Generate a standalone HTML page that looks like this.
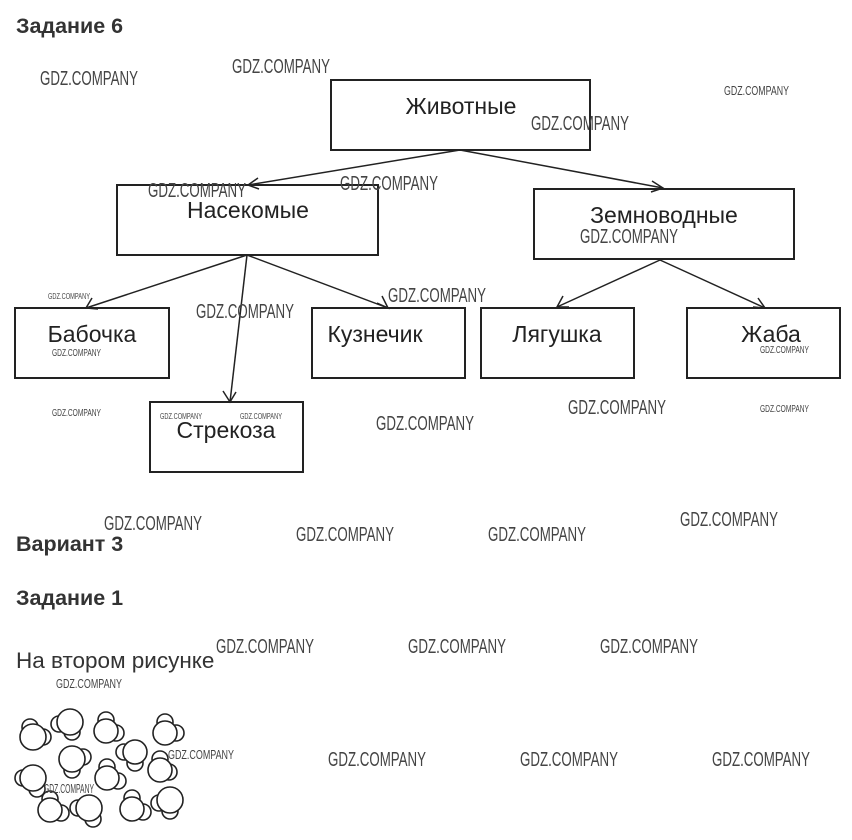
<!DOCTYPE html>
<html><head><meta charset="utf-8"><style>
body{margin:0;background:#fff}
svg{display:block}
.h{font-family:"Liberation Sans",sans-serif;font-weight:bold;font-size:21.5px;fill:#333}
.n{font-family:"Liberation Sans",sans-serif;font-size:23px;fill:#222}
.w{font-family:"Liberation Sans Narrow","Liberation Sans",sans-serif;fill:#444}
</style></head><body>
<svg width="852" height="840" viewBox="0 0 852 840" xmlns="http://www.w3.org/2000/svg">
<g stroke="#222" stroke-width="2" fill="none">
<rect x="331" y="80" width="259" height="70"/>
<rect x="117" y="185" width="261" height="70"/>
<rect x="534" y="189" width="260" height="70"/>
<rect x="15" y="308" width="154" height="70"/>
<rect x="312" y="308" width="153" height="70"/>
<rect x="481" y="308" width="153" height="70"/>
<rect x="687" y="308" width="153" height="70"/>
<rect x="150" y="402" width="153" height="70"/>
</g>
<g stroke="#222" stroke-width="1.5" fill="none">
<line x1="460" y1="150" x2="248" y2="185"/><polyline points="258,178 248,185 259,189"/>
<line x1="460" y1="150" x2="663" y2="188"/><polyline points="652,181 663,188 651,192"/>
<line x1="247" y1="255" x2="86" y2="308"/><polyline points="92,298 86,308 98,309"/>
<line x1="247" y1="255" x2="230" y2="402"/><polyline points="223,391 230,402 236,392"/>
<line x1="247" y1="255" x2="388" y2="308"/><polyline points="377,303 388,308 382,296"/>
<line x1="660" y1="260" x2="557" y2="307"/><polyline points="563,296 557,307 569,307"/>
<line x1="660" y1="260" x2="765" y2="308"/><polyline points="753,307 765,308 758,298"/>
</g>
<text class="n" x="461" y="114" text-anchor="middle">Животные</text>
<text class="n" x="248" y="218" text-anchor="middle">Насекомые</text>
<text class="n" x="664" y="223" text-anchor="middle">Земноводные</text>
<text class="n" x="92" y="342" text-anchor="middle">Бабочка</text>
<text class="n" x="375" y="342" text-anchor="middle">Кузнечик</text>
<text class="n" x="557" y="342" text-anchor="middle">Лягушка</text>
<text class="n" x="771" y="342" text-anchor="middle">Жаба</text>
<text class="n" x="226" y="438" text-anchor="middle">Стрекоза</text>
<text class="h" x="16" y="33">Задание 6</text>
<text class="h" x="16" y="551">Вариант 3</text>
<text class="h" x="16" y="605">Задание 1</text>
<text class="n" x="16" y="668" style="font-size:22.5px;fill:#333">На втором рисунке</text>
<g stroke="#222" stroke-width="1.6" fill="#fff">
<g transform="translate(33,737)"><circle cx="-3" cy="-10" r="8"/><circle cx="10" cy="0" r="8"/><circle r="13"/></g>
<g transform="translate(70,722)"><circle cx="-11" cy="2" r="8"/><circle cx="2" cy="10" r="8"/><circle r="13"/></g>
<g transform="translate(106,731)"><circle cx="0" cy="-11" r="8"/><circle cx="10" cy="2" r="8"/><circle r="12"/></g>
<g transform="translate(165,733)"><circle cx="0" cy="-11" r="8"/><circle cx="11" cy="0" r="8"/><circle r="12"/></g>
<g transform="translate(135,752)"><circle cx="-11" cy="0" r="8"/><circle cx="0" cy="11" r="8"/><circle r="12"/></g>
<g transform="translate(72,759)"><circle cx="11" cy="-2" r="8"/><circle cx="0" cy="11" r="8"/><circle r="13"/></g>
<g transform="translate(160,770)"><circle cx="0" cy="-11" r="8"/><circle cx="9" cy="2" r="8"/><circle r="12"/></g>
<g transform="translate(33,778)"><circle cx="-10" cy="0" r="8"/><circle cx="4" cy="11" r="8"/><circle r="13"/></g>
<g transform="translate(107,778)"><circle cx="0" cy="-11" r="8"/><circle cx="11" cy="3" r="8"/><circle r="12"/></g>
<g transform="translate(50,810)"><circle cx="0" cy="-11" r="8"/><circle cx="11" cy="3" r="8"/><circle r="12"/></g>
<g transform="translate(89,808)"><circle cx="-11" cy="0" r="8"/><circle cx="4" cy="11" r="8"/><circle r="13"/></g>
<g transform="translate(132,809)"><circle cx="0" cy="-11" r="8"/><circle cx="11" cy="3" r="8"/><circle r="12"/></g>
<g transform="translate(170,800)"><circle cx="-11" cy="3" r="8"/><circle cx="0" cy="11" r="8"/><circle r="13"/></g>
</g>
<g class="w" style="font-size:20px">
<text x="40" y="85" textLength="98" lengthAdjust="spacingAndGlyphs">GDZ.COMPANY</text>
<text x="232" y="73" textLength="98" lengthAdjust="spacingAndGlyphs">GDZ.COMPANY</text>
<text x="531" y="130" textLength="98" lengthAdjust="spacingAndGlyphs">GDZ.COMPANY</text>
<text x="148" y="197" textLength="98" lengthAdjust="spacingAndGlyphs">GDZ.COMPANY</text>
<text x="340" y="190" textLength="98" lengthAdjust="spacingAndGlyphs">GDZ.COMPANY</text>
<text x="580" y="243" textLength="98" lengthAdjust="spacingAndGlyphs">GDZ.COMPANY</text>
<text x="196" y="318" textLength="98" lengthAdjust="spacingAndGlyphs">GDZ.COMPANY</text>
<text x="388" y="302" textLength="98" lengthAdjust="spacingAndGlyphs">GDZ.COMPANY</text>
<text x="376" y="430" textLength="98" lengthAdjust="spacingAndGlyphs">GDZ.COMPANY</text>
<text x="568" y="414" textLength="98" lengthAdjust="spacingAndGlyphs">GDZ.COMPANY</text>
<text x="104" y="530" textLength="98" lengthAdjust="spacingAndGlyphs">GDZ.COMPANY</text>
<text x="296" y="541" textLength="98" lengthAdjust="spacingAndGlyphs">GDZ.COMPANY</text>
<text x="488" y="541" textLength="98" lengthAdjust="spacingAndGlyphs">GDZ.COMPANY</text>
<text x="680" y="526" textLength="98" lengthAdjust="spacingAndGlyphs">GDZ.COMPANY</text>
<text x="216" y="653" textLength="98" lengthAdjust="spacingAndGlyphs">GDZ.COMPANY</text>
<text x="408" y="653" textLength="98" lengthAdjust="spacingAndGlyphs">GDZ.COMPANY</text>
<text x="600" y="653" textLength="98" lengthAdjust="spacingAndGlyphs">GDZ.COMPANY</text>
<text x="328" y="766" textLength="98" lengthAdjust="spacingAndGlyphs">GDZ.COMPANY</text>
<text x="520" y="766" textLength="98" lengthAdjust="spacingAndGlyphs">GDZ.COMPANY</text>
<text x="712" y="766" textLength="98" lengthAdjust="spacingAndGlyphs">GDZ.COMPANY</text>
</g>
<g class="w" style="font-size:13px">
<text x="724" y="95" textLength="65" lengthAdjust="spacingAndGlyphs">GDZ.COMPANY</text>
<text x="56" y="688" textLength="66" lengthAdjust="spacingAndGlyphs">GDZ.COMPANY</text>
<text x="168" y="759" textLength="66" lengthAdjust="spacingAndGlyphs">GDZ.COMPANY</text>
<text x="44" y="793" textLength="50" lengthAdjust="spacingAndGlyphs">GDZ.COMPANY</text>
</g>
<g class="w" style="font-size:10px">
<text x="52" y="356" textLength="49" lengthAdjust="spacingAndGlyphs">GDZ.COMPANY</text>
<text x="760" y="353" textLength="49" lengthAdjust="spacingAndGlyphs">GDZ.COMPANY</text>
<text x="52" y="416" textLength="49" lengthAdjust="spacingAndGlyphs">GDZ.COMPANY</text>
<text x="760" y="412" textLength="49" lengthAdjust="spacingAndGlyphs">GDZ.COMPANY</text>
</g>
<g class="w" style="font-size:8px">
<text x="48" y="299" textLength="42" lengthAdjust="spacingAndGlyphs">GDZ.COMPANY</text>
<text x="160" y="419" textLength="42" lengthAdjust="spacingAndGlyphs">GDZ.COMPANY</text>
<text x="240" y="419" textLength="42" lengthAdjust="spacingAndGlyphs">GDZ.COMPANY</text>
</g>
</svg>
</body></html>
